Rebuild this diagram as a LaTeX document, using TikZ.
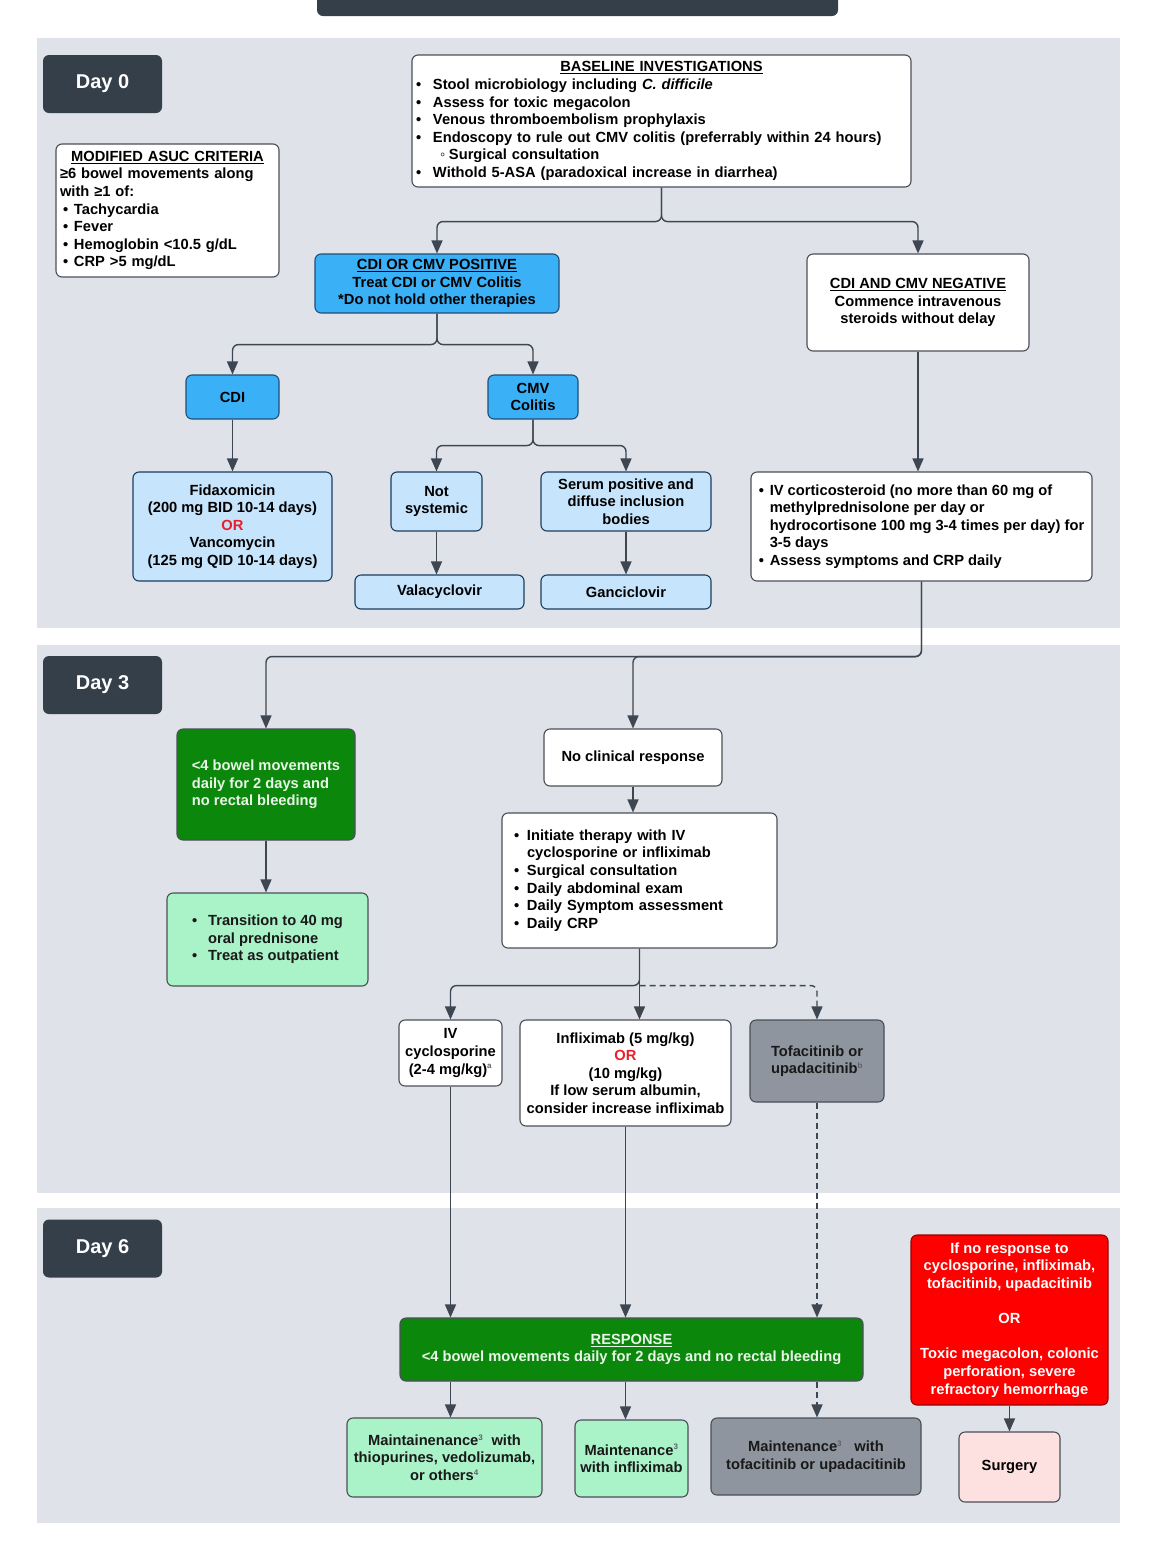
\documentclass[tikz,border=0pt]{standalone}
\usepackage{fontspec}
\setmainfont{Liberation Sans}
\usepackage{tikz}
\usetikzlibrary{arrows.meta}

\definecolor{panelgray}{HTML}{DFE2E8}
\definecolor{dayfill}{HTML}{353F4A}
\definecolor{connline}{HTML}{3D4651}
\definecolor{boxline}{HTML}{4A4F57}
\definecolor{cdiblue}{HTML}{3AB0F7}
\definecolor{blueline}{HTML}{1F4E78}
\definecolor{paleblue}{HTML}{C6E4FB}
\definecolor{darkgreen}{HTML}{0B880B}
\definecolor{palegreen}{HTML}{AAF2C8}
\definecolor{jakgray}{HTML}{8E959E}
\definecolor{alarmred}{HTML}{FE0000}
\definecolor{palepink}{HTML}{FDE0E0}
\definecolor{orred}{HTML}{E8202A}
\definecolor{greentext}{HTML}{E8F5E8}
\definecolor{supgray}{HTML}{5E636A}

% bullet in a box of given width, and the matching indent
\newcommand{\bul}[1]{\makebox[#1][l]{\textbullet}}
\newcommand{\ind}[1]{\hspace*{#1}}
\newcommand{\sups}[1]{\textsuperscript{\textcolor{supgray}{\fontsize{8}{8}\selectfont #1}}}

\begin{document}
\begin{tikzpicture}
		[x=1pt,y=-1pt,
		font=\fontsize{14.7}{17.6}\selectfont\bfseries,
		box/.style={draw=boxline,line width=1.1pt,rounded corners=6pt,
inner sep=4pt,align=center},
		whitebox/.style={box,fill=white},
		bluebox/.style={box,fill=cdiblue,draw=blueline},
		palebluebox/.style={box,fill=paleblue,draw=blueline!80!black},
		greenbox/.style={box,fill=darkgreen,text=greentext},
		palegreenbox/.style={box,fill=palegreen,text=black!90},
		graybox/.style={box,fill=jakgray,text=black!90},
		daybox/.style={fill=dayfill,rounded corners=6pt,text=white,
minimum width=119pt,minimum height=58pt,font=\fontsize{20}{24}\selectfont\bfseries},
		conn/.style={draw=connline,line width=1.4pt,rounded corners=6pt,
-{Triangle[width=11pt,length=13pt]}},
		dashconn/.style={conn,dash pattern=on 6pt off 4pt}]
		\useasboundingbox (0,0) rectangle (1152,1543);
		\clip (0,0) rectangle (1152,1543);
		% panels
		\fill[dayfill,rounded corners=6pt] (317,-20) rectangle (838,16);
		\fill[panelgray] (37,38) rectangle (1120,628);
		\fill[panelgray] (37,645) rectangle (1120,1193);
		\fill[panelgray] (37,1208) rectangle (1120,1523);
		\node at (102.5,84) (day0) [daybox] {Day 0};
		\node at (102.5,685) (day3) [daybox] {Day 3};
		\node at (102.5,1248.5) (day6) [daybox] {Day 6};
		% day 0
		\node at (167.5,210.5) (asuc) [whitebox,minimum width=223pt,minimum height=133pt,
text width=215pt,align=left]
			{{\centering\underline{MODIFIED ASUC CRITERIA}\par}
			≥6 bowel movements along\\ with ≥1 of:\\
			\ind{3pt}\bul{11pt}Tachycardia\\ \ind{3pt}\bul{11pt}Fever\\
			\ind{3pt}\bul{11pt}Hemoglobin <10.5 g/dL\\ \ind{3pt}\bul{11pt}CRP >5 mg/dL};
		\node at (661.5,121) (base) [whitebox,minimum width=499pt,minimum height=132pt,
text width=491pt,align=left]
			{{\centering\underline{BASELINE INVESTIGATIONS}\par}
			\bul{17pt}Stool microbiology including \textit{C. difficile}\\
			\bul{17pt}Assess for toxic megacolon\\
			\bul{17pt}Venous thromboembolism prophylaxis\\
			\bul{17pt}Endoscopy to rule out CMV colitis (preferrably within 24 hours)\\
			\ind{24pt}\makebox[9pt][l]{◦}Surgical consultation\\
			\bul{17pt}Withold 5-ASA (paradoxical increase in diarrhea)};
		\node at (437,283.5) (cdipos) [bluebox,minimum width=244pt,minimum height=59pt]
			{\underline{CDI OR CMV POSITIVE}\\ Treat CDI or CMV Colitis\\ *Do not hold other therapies};
		\node at (918,302.5) (cdineg) [whitebox,minimum width=222pt,minimum height=97pt]
			{\underline{CDI AND CMV NEGATIVE}\\ Commence intravenous\\ steroids without delay};
		\node at (232.5,397) (cdi) [bluebox,minimum width=93pt,minimum height=44pt] {CDI};
		\node at (533,397) (cmv) [bluebox,minimum width=90pt,minimum height=44pt] {CMV\\ Colitis};
		\node at (232.5,526.5) (fidax) [palebluebox,minimum width=199pt,minimum height=109pt]
			{Fidaxomicin\\ (200 mg BID 10-14 days)\\ \textcolor{orred}{OR}\\ Vancomycin\\ (125 mg QID 10-14 days)};
		\node at (436.5,501.5) (notsys) [palebluebox,minimum width=91pt,minimum height=59pt] {Not\\ systemic};
		\node at (626,501.5) (serum) [palebluebox,minimum width=170pt,minimum height=59pt]
			{Serum positive and\\ diffuse inclusion\\ bodies};
		\node at (439.5,592) (vala) [palebluebox,minimum width=169pt,minimum height=34pt] {Valacyclovir};
		\node at (626,592) (ganc) [palebluebox,minimum width=170pt,minimum height=34pt] {Ganciclovir};
		\node at (921.5,526.5) (cort) [whitebox,minimum width=341pt,minimum height=109pt,align=left]
			{\bul{11pt}IV corticosteroid (no more than 60 mg of\\
			\ind{11pt}methylprednisolone per day or\\
			\ind{11pt}hydrocortisone 100 mg 3-4 times per day) for\\
			\ind{11pt}3-5 days\\
			\bul{11pt}Assess symptoms and CRP daily};
		% day 3
		\node at (266,784.5) (grn) [greenbox,minimum width=178pt,minimum height=111pt,align=left]
			{<4 bowel movements\\ daily for 2 days and\\ no rectal bleeding};
		\node at (267.5,939.5) (trans) [palegreenbox,minimum width=201pt,minimum height=93pt,align=left]
			{\bul{16pt}Transition to 40 mg\\ \ind{16pt}oral prednisone\\ \bul{16pt}Treat as outpatient};
		\node at (633,757.5) (nocr) [whitebox,minimum width=178pt,minimum height=57pt] {No clinical response};
		\node at (639.5,880.5) (init) [whitebox,minimum width=275pt,minimum height=135pt,
inner xsep=12pt,text width=251pt,align=left]
			{\bul{13pt}Initiate therapy with IV\\ \ind{13pt}cyclosporine or infliximab\\
			\bul{13pt}Surgical consultation\\ \bul{13pt}Daily abdominal exam\\
			\bul{13pt}Daily Symptom assessment\\ \bul{13pt}Daily CRP};
		\node at (450.5,1053) (ivc) [whitebox,minimum width=103pt,minimum height=66pt,inner sep=2pt]
			{IV\\ cyclosporine\\ (2-4 mg/kg)\sups{a}};
		\node at (625.5,1073) (infl) [whitebox,minimum width=211pt,minimum height=106pt]
			{Infliximab (5 mg/kg)\\ \textcolor{orred}{OR}\\ (10 mg/kg)\\ If low serum albumin,\\ consider increase infliximab};
		\node at (817,1061) (tofa) [graybox,minimum width=134pt,minimum height=82pt]
			{Tofacitinib or\\ upadacitinib\sups{b}};
		% day 6
		\node at (631.5,1349.5) (resp) [greenbox,minimum width=463pt,minimum height=63pt]
			{\underline{RESPONSE}\\ <4 bowel movements daily for 2 days and no rectal bleeding};
		\node at (444.5,1457.5) (maint1) [palegreenbox,minimum width=195pt,minimum height=79pt,inner sep=2pt]
			{Maintainenance\sups{3}\ \ with\\ thiopurines, vedolizumab,\\ or others\sups{4}};
		\node at (631.5,1458.5) (maint2) [palegreenbox,minimum width=113pt,minimum height=77pt,inner sep=2pt]
			{Maintenance\sups{3}\\ with infliximab};
		\node at (816,1456.5) (maint3) [graybox,minimum width=210pt,minimum height=77pt]
			{Maintenance\sups{3}\ \ \ with\\ tofacitinib or upadacitinib};
		\node at (1009.5,1320) (noresp) [box,fill=alarmred,draw=red!60!black,text=white,
minimum width=197pt,minimum height=170pt]
			{If no response to\\ cyclosporine, infliximab,\\ tofacitinib, upadacitinib\\[17.6pt]
			OR\\[17.6pt] Toxic megacolon, colonic\\ perforation, severe\\ refractory hemorrhage};
		\node at (1009.5,1467) (surg) [box,fill=palepink,minimum width=101pt,minimum height=70pt] {Surgery};
		% connectors
		\draw[conn] (base.south) -- ++(0,34) -| (cdipos.north);
		\draw[conn] (base.south) -- ++(0,34) -| (cdineg.north);
		\draw[conn] (cdipos.south) -- ++(0,31) -| (cdi.north);
		\draw[conn] (cdipos.south) -- ++(0,31) -| (cmv.north);
		\draw[conn] (cmv.south) -- ++(0,26) -| (notsys.north);
		\draw[conn] (cmv.south) -- ++(0,26) -| (serum.north);
		\draw[conn] (cdi.south) -- (fidax.north);
		\draw[conn] (notsys.south) -- (notsys.south |- vala.north);
		\draw[conn] (serum.south) -- (ganc.north);
		\draw[conn] (cdineg.south) -- (cdineg.south |- cort.north);
		\draw[conn] (cort.south) -- ++(0,75) -| (grn.north);
		\draw[conn] (cort.south) -- ++(0,75) -| (nocr.north);
		\draw[conn] (grn.south) -- (grn.south |- trans.north);
		\draw[conn] (nocr.south) -- (nocr.south |- init.north);
		\draw[conn] (init.south) -- ++(0,37) -| (ivc.north);
		\draw[conn] (init.south) -- (init.south |- infl.north);
		\draw[dashconn] (init.south) ++(0,37) -| (tofa.north);
		\draw[conn] (ivc.south) -- (ivc.south |- resp.north);
		\draw[conn] (infl.south) -- (infl.south |- resp.north);
		\draw[dashconn] (tofa.south) -- (tofa.south |- resp.north);
		\draw[conn] (resp.south -| ivc.south) -- (maint1.north -| ivc.south);
		\draw[conn] (resp.south -| infl.south) -- (maint2.north -| infl.south);
		\draw[dashconn] (resp.south -| tofa.south) -- (maint3.north -| tofa.south);
		\draw[conn] (noresp.south) -- (surg.north);
	\end{tikzpicture}
\end{document}
